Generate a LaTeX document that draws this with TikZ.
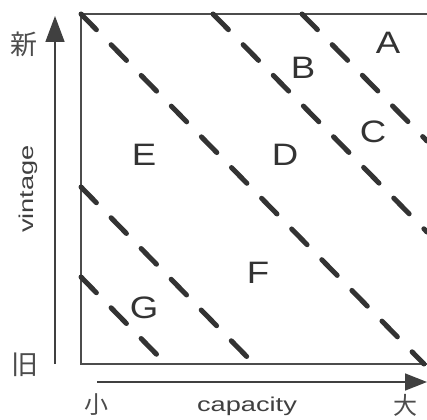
\documentclass[tikz,border=0pt]{standalone}
\usepackage{fontspec}
\setmainfont{Liberation Sans}
\newfontfamily\jpfont{Noto Sans CJK JP}
\usetikzlibrary{arrows.meta}
\begin{document}
\begin{tikzpicture}[x=1pt,y=-1pt,
  frame/.style={draw=black!70, line width=1.6pt},
  sepline/.style={draw=black!80, line width=5pt, line cap=round, dash pattern=on 22pt off 21pt},
  axisline/.style={draw=black!75, line width=1.6pt},
  region/.style={inner sep=0pt, text=black!80, font=\fontsize{31}{31}\selectfont},
  jplabel/.style={inner sep=0pt, text=black!70, font=\jpfont\fontsize{27}{27}\selectfont},
  jpsmall/.style={inner sep=0pt, text=black!70, font=\jpfont\fontsize{24}{24}\selectfont},
  wordlabel/.style={inner sep=0pt, text=black!75, font=\fontsize{20}{20}\selectfont}
]
\useasboundingbox (0,0) rectangle (427,419);
% box
\coordinate (TL) at (81,14);
\coordinate (BL) at (81,364);
\coordinate (TR) at (427,14);
\coordinate (BR) at (427,364);
\draw[frame] (TR) -- (TL) -- (BL) -- (BR);
% dashed separators
\coordinate (d1s) at (81,14);   \coordinate (d1e) at (424,364);
\coordinate (d2s) at (213,14);  \coordinate (d2e) at (427,232);
\coordinate (d3s) at (302,14);  \coordinate (d3e) at (427,141);
\coordinate (d4s) at (81,187);  \coordinate (d4e) at (254,364);
\coordinate (d5s) at (81,277);  \coordinate (d5e) at (166,364);
\draw[sepline] (d1s) -- (d1e);
\draw[sepline] (d2s) -- (d2e);
\draw[sepline] (d3s) -- (d3e);
\draw[sepline] (d4s) -- (d4e);
\draw[sepline] (d5s) -- (d5e);
% axes
\coordinate (vy0) at (55,364); \coordinate (vy1) at (55,16);
\coordinate (hx0) at (97,382); \coordinate (hx1) at (427,382);
\draw[axisline, -{Triangle[length=26pt,width=19pt]}] (vy0) -- (vy1);
\draw[axisline, -{Triangle[length=22pt,width=17pt]}] (hx0) -- (hx1);
% region labels
\node[region] (A) at (388,43) {\scalebox{1.18}[1]{A}};
\node[region] (B) at (303,68) {\scalebox{1.18}[1]{B}};
\node[region] (C) at (373,132) {\scalebox{1.18}[1]{C}};
\node[region] (D) at (285,155) {\scalebox{1.18}[1]{D}};
\node[region] (E) at (144,155) {\scalebox{1.18}[1]{E}};
\node[region] (F) at (258,273) {\scalebox{1.18}[1]{F}};
\node[region] (G) at (144,308) {\scalebox{1.18}[1]{G}};
% axis labels
\node[jplabel] (new) at (24,44) {新};
\node[jplabel] (old) at (25,365) {旧};
\node[jpsmall] (small) at (96,405) {小};
\node[jpsmall] (large) at (405,405) {大};
\node[wordlabel] (cap) at (247,406) {\scalebox{1.36}[1]{capacity}};
\node[wordlabel, rotate=90] (vin) at (28,189) {\scalebox{1.36}[1]{vintage}};
\end{tikzpicture}
\end{document}
